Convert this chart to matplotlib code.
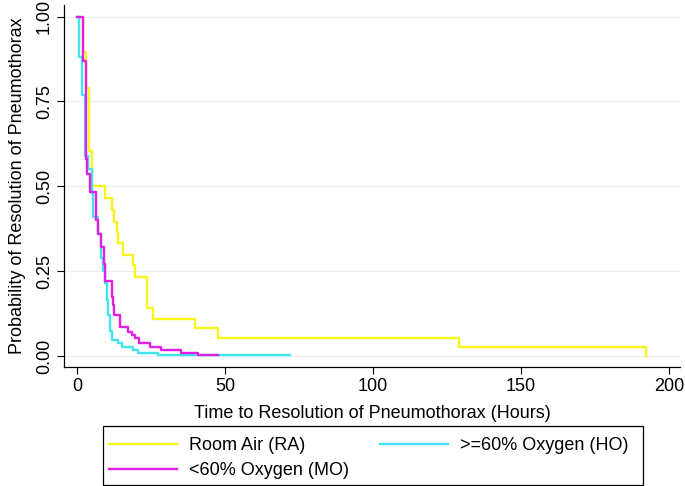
import matplotlib
matplotlib.use("Agg")
import matplotlib.pyplot as plt
from matplotlib.patches import Rectangle

# Kaplan-Meier style step data (time in hours, survival probability)
ra_t = [0, 2.1, 3.0, 4.0, 5.0, 9.5, 11.7, 12.5, 13.4, 14.0, 15.4, 18.8, 19.6, 23.6, 25.6, 39.7, 47.7, 129.2, 192.2]
ra_s = [1.0, 0.895, 0.79, 0.605, 0.50, 0.465, 0.43, 0.396, 0.366, 0.332, 0.298, 0.268, 0.234, 0.141, 0.11, 0.082, 0.052, 0.026, 0.0]

ho_t = [0, 0.5, 1.6, 2.7, 3.6, 5.0, 5.5, 7.2, 8.0, 8.9, 9.5, 10.0, 10.6, 11.2, 11.7, 14.0, 15.1, 19.0, 20.7, 27.5, 72.0]
ho_s = [1.0, 0.882, 0.77, 0.59, 0.55, 0.48, 0.41, 0.36, 0.29, 0.25, 0.215, 0.165, 0.12, 0.075, 0.047, 0.037, 0.027, 0.018, 0.01, 0.002, 0.002]

mo_t = [0, 1.9, 2.9, 3.5, 4.4, 6.4, 7.2, 8.0, 9.1, 9.6, 11.7, 12.1, 12.5, 14.5, 17.2, 18.6, 19.6, 21.0, 24.6, 28.4, 35.0, 41.0, 47.7]
mo_s = [1.0, 0.87, 0.58, 0.537, 0.484, 0.40, 0.36, 0.322, 0.27, 0.22, 0.175, 0.15, 0.12, 0.086, 0.072, 0.062, 0.052, 0.039, 0.027, 0.018, 0.01, 0.003, 0.003]

labels = ["Room Air (RA)", "<60% Oxygen (MO)", ">=60% Oxygen (HO)"]
x_ticks = [0, 50, 100, 150, 200]
y_ticks = [0.0, 0.25, 0.5, 0.75, 1.0]
y_ticklabels = ["0.00", "0.25", "0.50", "0.75", "1.00"]

plt.rcParams['font.family'] = ['Liberation Sans', 'DejaVu Sans']

c_ra = '#f7f51a'
c_ho = '#3fe6ee'
c_mo = '#e21ee2'
fs = 13

fig = plt.figure(figsize=(6.85, 4.86), dpi=100)
ax = fig.add_axes([64/685, 1-366.7/486, (680-64)/685, (366.7-5)/486])

lw = 1.7
l_ra, = ax.step(ra_t, ra_s, where='post', color=c_ra, lw=lw, zorder=3)
l_ho, = ax.step(ho_t, ho_s, where='post', color=c_ho, lw=lw, zorder=4)
l_mo, = ax.step(mo_t, mo_s, where='post', color=c_mo, lw=lw, zorder=5)

ax.set_xlim(-4.4, 203.7)
ax.set_ylim(-0.0315, 1.034)
ax.set_xticks(x_ticks)
ax.set_yticks(y_ticks)
ax.set_yticklabels(y_ticklabels, rotation=90, va='center')
ax.tick_params(axis='both', direction='out', length=5, width=0.8, labelsize=fs, color='black')
ax.tick_params(axis='x', pad=3)
ax.tick_params(axis='y', pad=3)
ax.grid(axis='y', color='#e8f0f2', lw=0.9, zorder=0)
ax.set_axisbelow(True)
for s in ['top', 'right']:
    ax.spines[s].set_visible(False)
for s in ['left', 'bottom']:
    ax.spines[s].set_color('black')
    ax.spines[s].set_linewidth(0.9)

ax.set_xlabel("Time to Resolution of Pneumothorax (Hours)", fontsize=fs, labelpad=7.5)
ax.set_ylabel("Probability of Resolution of Pneumothorax", fontsize=fs, labelpad=7)

# legend frame
fig.patches.append(Rectangle((103/685, 1/486), (643-103)/685, (59)/486,
                             transform=fig.transFigure, fill=False,
                             edgecolor='black', lw=0.9))
leg = fig.legend([l_ra, l_mo, l_ho], labels, ncol=2, loc='upper left',
                 bbox_to_anchor=(109/685, 1-437/486),
                 frameon=False, fontsize=fs, handlelength=3.77, handletextpad=0.66,
                 columnspacing=1.72, borderpad=0.0, labelspacing=0.47, borderaxespad=0)

fig.savefig("out.png", dpi=100, facecolor='white')
